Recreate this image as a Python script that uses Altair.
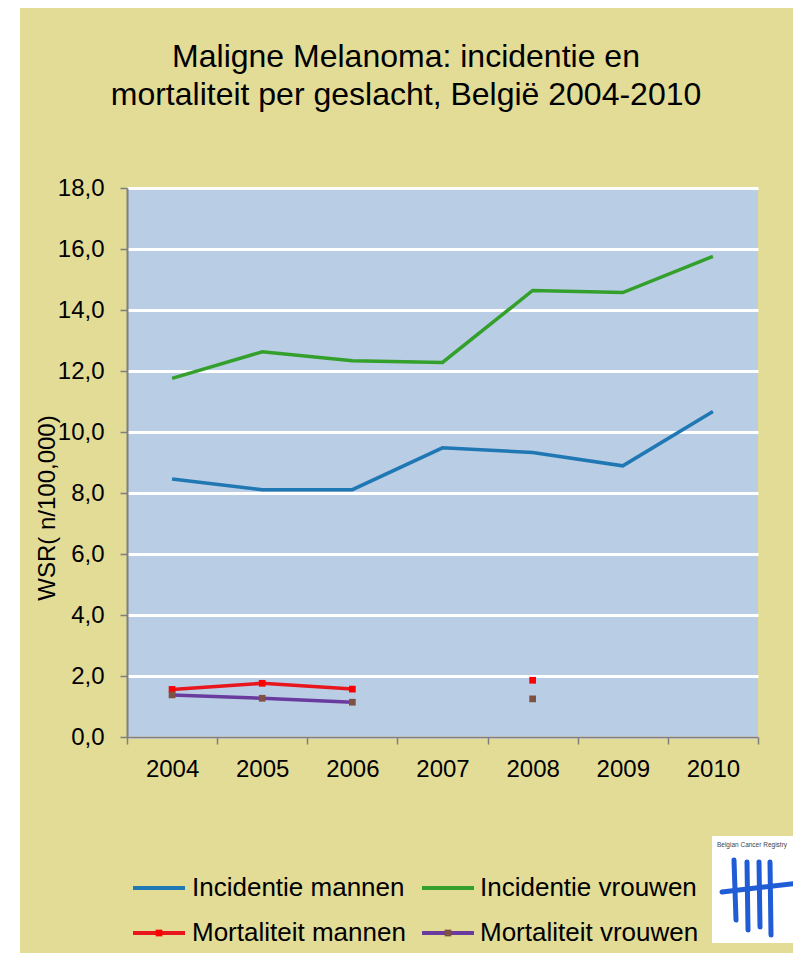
import altair as alt
import pandas as pd

# ---------------- data ----------------
years = ["2004", "2005", "2006", "2007", "2008", "2009", "2010"]
incidentie_mannen = [8.46, 8.11, 8.11, 9.48, 9.33, 8.89, 10.67]
incidentie_vrouwen = [11.76, 12.63, 12.34, 12.28, 14.64, 14.57, 15.76]
mortaliteit_mannen = [1.56, 1.76, 1.57, None, 1.86, None, None]
mortaliteit_vrouwen = [1.38, 1.27, 1.14, None, 1.25, None, None]

series_names = ["Incidentie mannen", "Incidentie vrouwen",
                "Mortaliteit mannen", "Mortaliteit vrouwen"]
line_colors = ["#1F78B4", "#33A02C", "#E8161C", "#6B3A9E"]
marker_series = ["Mortaliteit mannen", "Mortaliteit vrouwen"]
marker_colors = ["#FF0000", "#7E5142"]
y_ticks = [0, 2, 4, 6, 8, 10, 12, 14, 16, 18]

title_lines = ["Maligne Melanoma: incidentie en",
               "mortaliteit per geslacht, België 2004-2010"]
y_title = "WSR( n/100,000)"
logo_text = "Belgian Cancer Registry"

rows = []
for name, vals in zip(series_names, [incidentie_mannen, incidentie_vrouwen,
                                     mortaliteit_mannen, mortaliteit_vrouwen]):
    for yr, v in zip(years, vals):
        rows.append({"year": yr, "series": name, "value": v})
df = pd.DataFrame(rows)

FONT = "Liberation Sans"
BG = "#E2DC96"
W, H = 631, 549

x_enc = alt.X("year:O",
              scale=alt.Scale(type="band", paddingInner=0, paddingOuter=0, domain=years),
              axis=alt.Axis(title=None, tickBand="extent", labelAngle=0,
                            labelFontSize=24, labelFont=FONT, labelColor="black",
                            labelPadding=13, tickSize=7, tickColor="#7F7F7F",
                            tickWidth=1.5, domainColor="#7F7F7F", domainWidth=2,
                            grid=False))
y_enc = alt.Y("value:Q",
              scale=alt.Scale(domain=[0, 18], nice=False, zero=True),
              axis=alt.Axis(title=None, values=y_ticks,
                            labelExpr="replace(format(datum.value, '.1f'), '.', ',')",
                            labelFontSize=24, labelFont=FONT, labelColor="black",
                            labelPadding=16, tickSize=7, tickColor="#7F7F7F",
                            tickWidth=1.5, domainColor="#7F7F7F", domainWidth=2,
                            grid=True, gridColor="white", gridWidth=3, gridOpacity=1))

base = alt.Chart(df)

lines = base.mark_line(strokeWidth=3.5, invalid="break-paths-show-domains").encode(
    x=x_enc, y=y_enc,
    stroke=alt.Stroke("series:N", scale=alt.Scale(domain=series_names, range=line_colors),
                      legend=None),
)

points = base.transform_filter(
    alt.FieldOneOfPredicate(field="series", oneOf=marker_series)
).transform_filter("isValid(datum.value)").mark_square(size=45, opacity=1).encode(
    x=alt.X("year:O"), y=alt.Y("value:Q"),
    fill=alt.Fill("series:N", scale=alt.Scale(domain=marker_series, range=marker_colors),
                  legend=None),
)

one = pd.DataFrame({"k": [0]})

# white strip left of the khaki panel
strip = alt.Chart(one).mark_rect(color="white").encode(
    x=alt.value(-119), x2=alt.value(-107), y=alt.value(-190), y2=alt.value(770))

# title
title_df = pd.DataFrame({"t": title_lines, "yy": [-121, -83]})
title = alt.Chart(title_df).mark_text(fontSize=32, font=FONT, color="black",
                                      align="center", baseline="alphabetic").encode(
    x=alt.value(279), y=alt.Y("yy:Q", scale=None), text="t:N")

ytitle = alt.Chart(one).mark_text(text=y_title, angle=270, fontSize=24, font=FONT,
                                  color="black", align="center", baseline="middle").encode(
    x=alt.value(-79), y=alt.value(320))

# legend (custom)
leg_lines_df = pd.DataFrame({
    "series": series_names,
    "x1": [6, 295, 6, 295], "x2": [58, 347, 58, 347], "yy": [700, 700, 745, 745],
})
leg_lines = alt.Chart(leg_lines_df).mark_rule(strokeWidth=4).encode(
    x=alt.X("x1:Q", scale=None), x2="x2:Q", y=alt.Y("yy:Q", scale=None),
    color=alt.Color("series:N", scale=alt.Scale(domain=series_names, range=line_colors),
                    legend=None))
leg_mark_df = pd.DataFrame({"series": marker_series, "xx": [32, 321], "yy": [745, 745]})
leg_marks = alt.Chart(leg_mark_df).mark_square(size=45, opacity=1).encode(
    x=alt.X("xx:Q", scale=None), y=alt.Y("yy:Q", scale=None),
    fill=alt.Fill("series:N", scale=alt.Scale(domain=marker_series, range=marker_colors),
                  legend=None))
leg_text_df = pd.DataFrame({"series": series_names, "xx": [65, 353, 65, 353],
                            "yy": [700, 700, 745, 745]})
leg_text = alt.Chart(leg_text_df).mark_text(fontSize=26, font=FONT, color="black",
                                            align="left", baseline="middle").encode(
    x=alt.X("xx:Q", scale=None), y=alt.Y("yy:Q", scale=None), text="series:N")

# logo
logo_box = alt.Chart(one).mark_rect(color="white").encode(
    x=alt.value(585), x2=alt.value(680), y=alt.value(648), y2=alt.value(755))
logo_txt = alt.Chart(one).mark_text(text=logo_text, fontSize=6.5, font=FONT,
                                    color="#444444",
                                    align="center", baseline="middle").encode(
    x=alt.value(625), y=alt.value(657))
logo_df = pd.DataFrame({
    "x1": [607, 620, 632, 643, 595],
    "x2": [609, 621, 633, 644, 680],
    "y1": [672, 674, 674, 674, 704],
    "y2": [732, 742, 739, 747, 694],
})
logo_strokes = alt.Chart(logo_df).mark_rule(color="#1F5CD6", strokeWidth=5,
                                            strokeCap="round").encode(
    x=alt.X("x1:Q", scale=None), x2="x2:Q",
    y=alt.Y("y1:Q", scale=None), y2="y2:Q")

chart = alt.layer(
    lines, points, strip, title, ytitle, leg_lines, leg_marks, leg_text,
    logo_box, logo_txt, logo_strokes
).resolve_scale(
    stroke="independent", fill="independent", color="independent"
).properties(
    width=W, height=H,
    autosize=alt.AutoSizeParams(type="none"),
    padding={"left": 119, "top": 180, "right": 35, "bottom": 216},
    background=BG,
).configure_view(fill="#B9CDE5", strokeWidth=0)

chart.save("out.html", embed_options={"renderer": "svg", "actions": False})
